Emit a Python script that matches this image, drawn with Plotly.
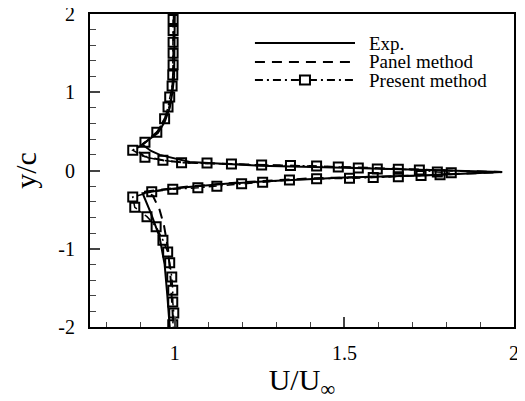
import plotly.graph_objects as go

# Exp. (solid)
exp_u = [1.0, 1.0, 0.998, 0.993, 0.985, 0.97, 0.95, 0.925, 0.905, 0.93, 0.956, 1.044, 1.25, 1.5, 1.75, 1.965,
         1.75, 1.5, 1.3, 1.15, 1.04, 0.96, 0.905, 0.93, 0.955, 0.97, 0.978, 0.985]
exp_y = [2.0, 1.5, 1.2, 1.0, 0.8, 0.62, 0.48, 0.4, 0.33, 0.25, 0.2, 0.11, 0.06, 0.035, 0.01, -0.02,
         -0.06, -0.09, -0.13, -0.17, -0.21, -0.25, -0.29, -0.55, -0.85, -1.2, -1.6, -2.0]

# Panel method (dashed)
pan_u = [0.997, 0.997, 0.995, 0.99, 0.983, 0.97, 0.95, 0.915, 0.885, 0.91, 0.965, 1.03, 1.2, 1.4, 1.6, 1.8, 1.965,
         1.8, 1.6, 1.4, 1.2, 1.05, 0.96, 0.91, 0.935, 0.955, 0.968, 0.98, 0.988, 0.993, 0.996]
pan_y = [2.0, 1.6, 1.2, 0.94, 0.8, 0.66, 0.5, 0.37, 0.27, 0.18, 0.13, 0.1, 0.08, 0.055, 0.03, 0.0, -0.02,
         -0.05, -0.08, -0.1, -0.15, -0.2, -0.24, -0.27, -0.32, -0.5, -0.7, -1.0, -1.4, -1.7, -2.0]

# Present method (dash-dot with square markers)
pre_u = [0.995, 0.995, 0.995, 0.995, 0.995, 0.994, 0.992, 0.985, 0.98, 0.97, 0.947, 0.912, 0.876,
         0.912, 0.965, 1.02, 1.095, 1.167, 1.256, 1.341, 1.418, 1.482, 1.541, 1.597, 1.659, 1.721, 1.774, 1.815,
         1.782, 1.726, 1.659, 1.585, 1.515, 1.418, 1.338, 1.259, 1.197, 1.124, 1.068, 0.994, 0.932, 0.876,
         0.882, 0.918, 0.945, 0.965, 0.979, 0.985, 0.991, 0.994, 0.994, 0.997, 0.994]
pre_y = [1.93, 1.79, 1.64, 1.5, 1.35, 1.22, 1.08, 0.94, 0.81, 0.66, 0.49, 0.36, 0.26,
         0.17, 0.13, 0.1, 0.095, 0.083, 0.07, 0.065, 0.058, 0.045, 0.032, 0.02, 0.015, 0.006, -0.02, -0.03,
         -0.055, -0.065, -0.08, -0.09, -0.1, -0.105, -0.12, -0.15, -0.17, -0.2, -0.22, -0.24, -0.27, -0.34,
         -0.47, -0.59, -0.72, -0.89, -1.04, -1.18, -1.36, -1.53, -1.68, -1.82, -1.97]

legend_labels = ["Exp.", "Panel method", "Present method"]
x_tickvals = [1, 1.5, 2]
x_ticktext = ["1", "1.5", "2"]
y_tickvals = [-2, -1, 0, 1, 2]
y_ticktext = ["-2", "-1", "0", "1", "2"]

FONT = "Liberation Serif"
DASH = "10px,7px"
DASHDOT = "8px,4px,2px,4px"

fig = go.Figure()
fig.add_trace(go.Scatter(x=exp_u, y=exp_y, mode="lines",
                         line=dict(color="black", width=2), showlegend=False))
fig.add_trace(go.Scatter(x=pan_u, y=pan_y, mode="lines",
                         line=dict(color="black", width=2, dash=DASH), showlegend=False))
fig.add_trace(go.Scatter(x=pre_u, y=pre_y, mode="lines+markers",
                         line=dict(color="black", width=1.5, dash=DASHDOT),
                         marker=dict(symbol="square-open", size=9, color="black", line=dict(width=2)),
                         showlegend=False))

# custom legend (long sample lines as in the reference)
rows = [0.907, 0.847, 0.789]
dashes = ["solid", DASH, DASHDOT]
for r, d, lab in zip(rows, dashes, legend_labels):
    fig.add_shape(type="line", xref="paper", yref="paper", x0=0.389, x1=0.625, y0=r, y1=r,
                  line=dict(color="black", width=2, dash=d))
    fig.add_annotation(xref="paper", yref="paper", x=0.655, y=r, text=lab, showarrow=False,
                       xanchor="left", yanchor="middle", borderpad=0,
                       font=dict(family=FONT, size=19, color="black"))
fig.add_shape(type="rect", xref="paper", yref="paper", xsizemode="pixel", ysizemode="pixel",
              xanchor=0.507, yanchor=rows[2], x0=-5, x1=5, y0=-4.5, y1=4.5,
              line=dict(color="black", width=2), fillcolor="white")

# page body adds an 8px offset, so the figure is 8px smaller to fill 525x401
fig.update_layout(
    width=517, height=393,
    margin=dict(l=82, r=11, t=6, b=74),
    plot_bgcolor="white", paper_bgcolor="white",
    font=dict(family=FONT, color="black", size=20),
)
fig.update_xaxes(range=[0.75, 2.0], tickmode="array", tickvals=x_tickvals, ticktext=x_ticktext,
                 ticks="inside", ticklen=10, tickwidth=1.5, automargin=False, ticklabeloverflow="allow",
                 showline=True, linewidth=2, linecolor="black", mirror=True, showgrid=False, zeroline=False,
                 minor=dict(ticks="inside", tickmode="linear", dtick=0.1, tick0=0, ticklen=5, tickwidth=1, showgrid=False),
                 tickfont=dict(family=FONT, size=20), ticklabelstandoff=7,
                 title=dict(text="U/U<sub>∞</sub>", font=dict(family=FONT, size=30), standoff=3))
fig.update_yaxes(range=[-2, 2], tickmode="array", tickvals=y_tickvals, ticktext=y_ticktext,
                 ticks="inside", ticklen=10, tickwidth=1.5, automargin=False, ticklabeloverflow="allow",
                 showline=True, linewidth=2, linecolor="black", mirror=True, showgrid=False, zeroline=False,
                 minor=dict(ticks="inside", tickmode="linear", dtick=0.2, tick0=0, ticklen=6, tickwidth=1, showgrid=False),
                 tickfont=dict(family=FONT, size=20), ticklabelstandoff=9,
                 title=dict(text="y/c", font=dict(family=FONT, size=30), standoff=13))

fig.write_html("out.html")
